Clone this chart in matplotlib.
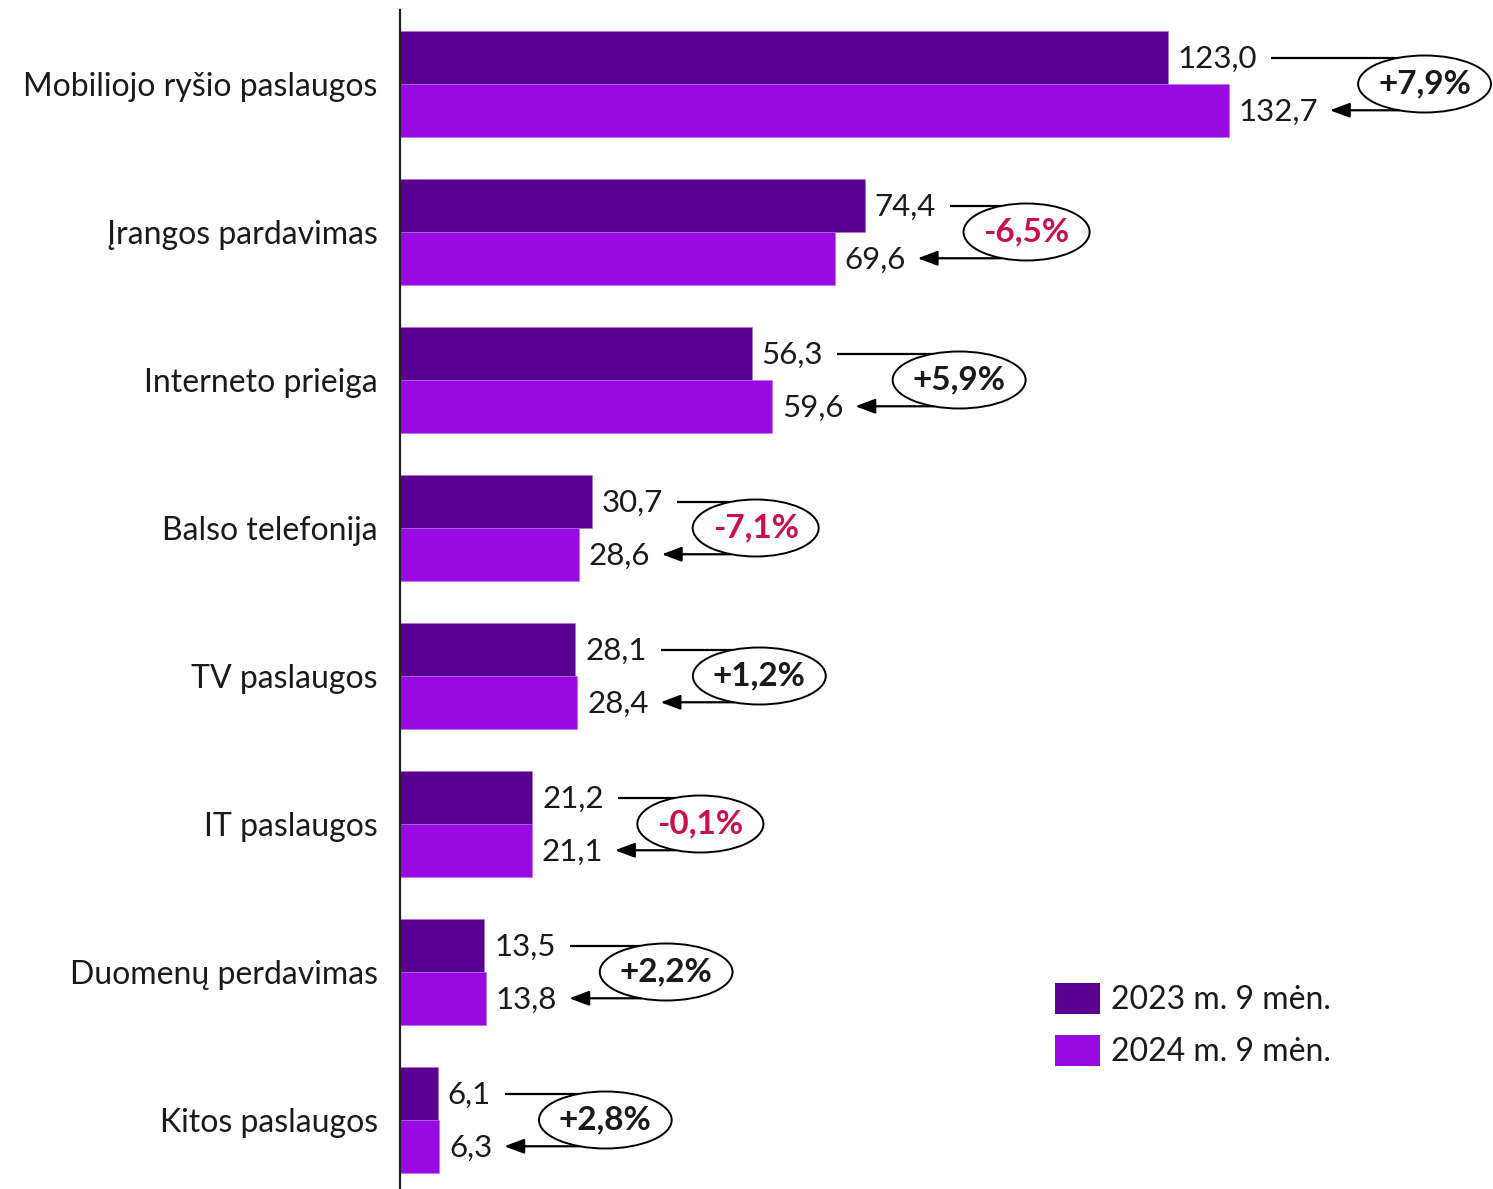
import matplotlib
matplotlib.use("Agg")
import matplotlib.pyplot as plt
from matplotlib.patches import Ellipse
import numpy as np

plt.rcParams['font.family'] = ['Lato', 'DejaVu Sans']

categories = ['Mobiliojo ryšio paslaugos', 'Įrangos pardavimas', 'Interneto prieiga',
              'Balso telefonija', 'TV paslaugos', 'IT paslaugos',
              'Duomenų perdavimas', 'Kitos paslaugos']
v2023 = [123.0, 74.4, 56.3, 30.7, 28.1, 21.2, 13.5, 6.1]
v2024 = [132.7, 69.6, 59.6, 28.6, 28.4, 21.1, 13.8, 6.3]
changes = ['+7,9%', '-6,5%', '+5,9%', '-7,1%', '+1,2%', '-0,1%', '+2,2%', '+2,8%']
series_names = ['2023 m. 9 mėn.', '2024 m. 9 mėn.']

# layout: bubble centre distance (px) right of the longer bar
bubble_dx = [196, 162, 187, 164, 182, 168, 180, 166]

c23 = '#5c0091'
c24 = '#990ae3'
neg_col = '#c8104a'
txt_col = '#1a1a1a'

W, H = 1493, 1189
fig = plt.figure(figsize=(W / 100, H / 100), dpi=100)
ax = fig.add_axes([400 / W, 0, (W - 400) / W, (H - 10) / H])

xmax = (W - 400) / 6.244
ax.set_xlim(0, xmax)
ax.set_ylim(7 + 69 / 148, -74 / 148)

y = np.arange(len(categories))
bh = 0.355
ax.barh(y - bh / 2, v2023, height=bh, color=c23, edgecolor='#b070e0', linewidth=0.4, label=series_names[0])
ax.barh(y + bh / 2, v2024, height=bh, color=c24, edgecolor='#b070e0', linewidth=0.4, label=series_names[1])

for s in ['top', 'right', 'bottom']:
    ax.spines[s].set_visible(False)
ax.spines['left'].set_linewidth(1.6)
ax.spines['left'].set_color('#222222')
ax.set_xticks([])
ax.set_yticks(y)
ax.set_yticklabels(categories, fontsize=23, color=txt_col)
ax.tick_params(axis='y', length=0, pad=16)

px_x = 6.244   # px per data unit x
px_y = 148.0   # px per data unit y

fig.canvas.draw()
renderer = fig.canvas.get_renderer()

def fmt(v):
    return f'{v:.1f}'.replace('.', ',')

for i in range(len(categories)):
    t1 = ax.annotate(fmt(v2023[i]), (v2023[i], i - bh / 2), xytext=(7, -1),
                     textcoords='offset points', ha='left', va='center',
                     fontsize=22.5, color=txt_col)
    t2 = ax.annotate(fmt(v2024[i]), (v2024[i], i + bh / 2), xytext=(7, -1),
                     textcoords='offset points', ha='left', va='center',
                     fontsize=22.5, color=txt_col)
    e1 = t1.get_window_extent(renderer)
    e2 = t2.get_window_extent(renderer)
    x1 = (e1.x1 - 400) / px_x + 14 / px_x
    x2 = (e2.x1 - 400) / px_x + 12 / px_x
    cx = max(v2023[i], v2024[i]) + bubble_dx[i] / px_x
    xv = cx - 25 / px_x
    ax.plot([x1, xv, xv], [i - bh / 2, i - bh / 2, i + bh / 2], color='black', lw=1.6,
            solid_capstyle='butt', zorder=3)
    ax.annotate('', xy=(x2, i + bh / 2), xytext=(xv, i + bh / 2),
                arrowprops=dict(arrowstyle='-|>,head_length=1.2,head_width=0.45',
                                color='black', lw=1.6, shrinkA=0, shrinkB=0), zorder=3)
    col = neg_col if changes[i].startswith('-') else txt_col
    tc = ax.text(cx, i, changes[i], ha='center', va='center', fontsize=24,
                 fontweight='bold', color=col, zorder=6)
    ec = tc.get_window_extent(renderer)
    ew = (ec.width + 40) / px_x
    eh = 57 / px_y
    ax.add_patch(Ellipse((cx, i), ew, eh, facecolor='white', edgecolor='black',
                         lw=1.4, zorder=5))

leg = ax.legend(loc='upper left', bbox_to_anchor=(1055 / W, 1 - 983 / H),
                bbox_transform=fig.transFigure, frameon=False, fontsize=23,
                handlelength=1.4, handleheight=1.1, handletextpad=0.35,
                labelspacing=0.62, borderpad=0, borderaxespad=0)
for t in leg.get_texts():
    t.set_color(txt_col)
for h in leg.legend_handles:
    h.set_edgecolor('none')

fig.savefig('out.png', dpi=100)
